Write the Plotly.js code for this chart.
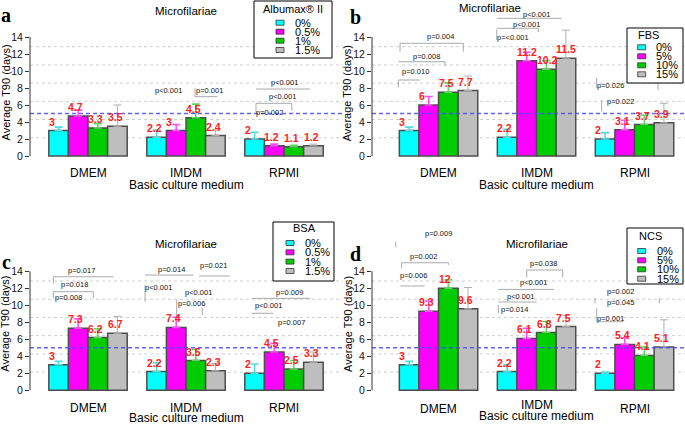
<!DOCTYPE html>
<html><head><meta charset="utf-8">
<script src="https://cdn.plot.ly/plotly-3.0.1.min.js"></script>
<style>html,body{margin:0;padding:0;background:#fff}#chart{width:685px;height:424px}</style>
</head><body><div id="chart"></div>
<script>
// ---------------- data ----------------
const media = ['DMEM', 'IMDM', 'RPMI'];

const levelsAlbumax = ['0%', '0.5%', '1%', '1.5%'];
const levelsFBS = ['0%', '5%', '10%', '15%'];
const levelsBSA = ['0%', '0.5%', '1%', '1.5%'];
const levelsNCS = ['0%', '5%', '10%', '15%'];

// mean T90 [level][medium]
const meanAlbumax = [[3, 2.2, 2], [4.7, 3, 1.2], [3.3, 4.5, 1.1], [3.5, 2.4, 1.2]];
const errAlbumax  = [[0.4, 0.85, 0.8], [0.7, 0.7, 0.2], [0.5, 1.6, 0.15], [2.5, 0.65, 0.2]];

const meanFBS = [[3, 2.2, 2], [6, 11.2, 3.1], [7.5, 10.2, 3.7], [7.7, 11.5, 3.9]];
const errFBS  = [[0.4, 0.95, 0.75], [1.0, 1.0, 1.1], [1.1, 1.0, 1.1], [1.7, 3.3, 2.3]];

const meanBSA = [[3, 2.2, 2], [7.3, 7.4, 4.5], [6.2, 3.5, 2.5], [6.7, 2.3, 3.3]];
const errBSA  = [[0.4, 1.05, 1.1], [1.1, 1.2, 1.0], [1.05, 1.3, 1.0], [2.0, 0.85, 1.2]];

const meanNCS = [[3, 2.2, 2], [9.3, 6.1, 5.4], [12, 6.8, 4.1], [9.6, 7.5, 5.1]];
const errNCS  = [[0.4, 0.8, 0.15], [1.2, 1.2, 0.75], [1.0, 1.3, 1.0], [2.5, 1.3, 3.2]];

const referenceLine = 5;
const yTicks = [0, 2, 4, 6, 8, 10, 12, 14];
const gridVals = [2.14, 4.29, 6.43, 8.57, 10.71, 12.86];

// p-value comparison labels (data units: x = category index, y = days)
const pAlbumax = [
  {t: 'p<0.001', x: 0.82, y: 7.65, path: []},
  {t: 'p=0.001', x: 1.235, y: 7.65, path: [[[1.092, 7.96], [1.092, 6.98], [1.319, 6.98]]]},
  {t: 'p<0.001', x: 2.0, y: 8.67, path: [[[1.714, 7.88], [2.265, 7.88]]]},
  {t: 'p<0.001', x: 1.983, y: 6.98, path: [[[1.714, 5.2], [1.714, 6.2], [2.079, 6.2], [2.079, 5.33]]]},
  {t: 'p=0.002', x: 1.857, y: 5.09, path: []}
];
const pFBS = [
  {t: 'p=0.004', x: 0.015, y: 14.04, path: [[[-0.393, 12.27], [-0.393, 13.26], [0.253, 13.26], [0.253, 12.27]]]},
  {t: 'p=0.008', x: -0.12, y: 11.68, path: [[[-0.41, 11.09], [0.066, 11.09], [0.066, 10.6]]]},
  {t: 'p=0.010', x: -0.24, y: 9.92, path: [[[-0.41, 8.08], [-0.41, 8.94], [-0.189, 8.94]]]},
  {t: 'p<0.001', x: 0.995, y: 16.7, path: [[[0.594, 16.2], [1.257, 16.2]]]},
  {t: 'p<0.001', x: 0.9, y: 15.5, path: [[[0.594, 15.02], [1.018, 15.02], [1.018, 14.58]]]},
  {t: 'p=<0.001', x: 0.763, y: 13.92, path: [[[0.594, 14.9], [0.594, 13.65]]]},
  {t: 'p=0.026', x: 1.75, y: 8.35, path: [[[1.614, 9.18], [1.614, 8.0]], [[2.24, 8.74], [2.24, 7.76]]]},
  {t: 'p=0.022', x: 1.852, y: 6.39, path: [[[1.665, 6.59], [1.665, 5.21]]]}
];
const pBSA = [
  {t: 'p=0.017', x: -0.064, y: 14.04, path: [[[-0.354, 12.59], [-0.354, 13.36], [0.258, 13.36]]]},
  {t: 'p=0.018', x: -0.133, y: 12.39, path: [[[-0.354, 10.82], [-0.354, 11.6], [0.054, 11.6], [0.054, 10.82]]]},
  {t: 'p=0.008', x: -0.2, y: 10.89, path: []},
  {t: 'p=0.014', x: 0.854, y: 14.27, path: [[[0.582, 13.56], [1.074, 13.56]]]},
  {t: 'p=0.021', x: 1.276, y: 14.7, path: [[[1.133, 13.45], [1.45, 13.45]]]},
  {t: 'p<0.001', x: 0.724, y: 12.07, path: [[[0.582, 12.39], [0.582, 10.42]]]},
  {t: 'p<0.001', x: 1.125, y: 11.53, path: []},
  {t: 'p=0.006', x: 1.058, y: 10.24, path: [[[0.905, 10.62], [0.905, 8.66]], [[1.166, 9.68], [1.166, 8.86]]]},
  {t: 'p=0.009', x: 2.061, y: 11.48, path: [[[1.67, 10.82], [2.265, 10.82]]]},
  {t: 'p<0.001', x: 1.84, y: 9.92, path: [[[1.67, 9.06], [1.89, 9.06]]]},
  {t: 'p=0.007', x: 2.079, y: 7.95, path: []}
];
const pNCS = [
  {t: 'p=0.009', x: -0.002, y: 18.47, path: [[[-0.437, 17.48], [-0.437, 16.82]]]},
  {t: 'p=0.002', x: -0.155, y: 15.8, path: [[[-0.376, 14.35], [-0.376, 15.01], [0.1, 15.01], [0.1, 14.74]]]},
  {t: 'p=0.006', x: -0.257, y: 13.56, path: [[[-0.39, 12.27], [-0.14, 12.27]]]},
  {t: 'p=0.038', x: 1.069, y: 14.94, path: [[[0.9, 13.29], [0.9, 14.15], [1.267, 14.15], [1.267, 13.29]]]},
  {t: 'p<0.001', x: 0.974, y: 12.7, path: [[[0.61, 11.87], [1.18, 11.87]]]},
  {t: 'p<0.001', x: 0.832, y: 11.09, path: [[[0.61, 10.39], [1.0, 10.39]]]},
  {t: 'p=0.014', x: 0.78, y: 9.53, path: [[[0.61, 10.04], [0.61, 9.06]]]},
  {t: 'p=0.002', x: 1.852, y: 11.6, path: [[[1.597, 10.82], [1.597, 10.24]], [[2.253, 10.82], [2.253, 10.24]]]},
  {t: 'p=0.045', x: 1.859, y: 10.35, path: []},
  {t: 'p=0.001', x: 1.75, y: 8.47, path: [[[1.614, 9.65], [1.614, 8.07], [1.886, 8.07]]]}
];

// ---------------- styling / layout ----------------
const W = 685, H = 424;
const FONT = 'Liberation Sans, Arial, Helvetica, sans-serif';
const barColors = ['#00ffff', '#ff00ff', '#00cd00', '#bebebe'];
const errColors = ['#4fdcdc', '#ff4cff', '#5ad85a', '#b0b0b0'];
const errWidths = [1.6, 1.6, 1.6, 1.0];

const rows = [
  {dom: [1 - 168.75 / H, 1 - 3 / H], range: [-1.5, 18]},
  {dom: [1 - 403.05 / H, 1 - 224.55 / H], range: [-1.5, 19.5]}
];

const panels = [
  {letter: 'a', means: meanAlbumax, errs: errAlbumax, levels: levelsAlbumax, legTitle: 'Albumax® II', pv: pAlbumax,
   row: 0, xdom: [30, 343], xr: [-0.592, 2.602],
   letterPos: [6, 15], titlePos: [186, 11], yTitlePos: [5, 92.5], catY: [173, 173, 173], xTitlePos: [186, 185],
   legBox: [254, 1, 332, 58], legTitlePos: [293.3, 9.5], swX: 280, labX: 293, itemY: [22.7, 31.7, 40.7, 50]},
  {letter: 'b', means: meanFBS, errs: errFBS, levels: levelsFBS, legTitle: 'FBS', pv: pFBS,
   row: 0, xdom: [372, 685], xr: [-0.679, 2.515],
   letterPos: [355, 17], titlePos: [490, 8.5], yTitlePos: [347, 93.3], catY: [173, 173, 173], xTitlePos: [536.7, 185],
   legBox: [627, 28, 683, 83], legTitlePos: [648.3, 34.5], swX: 641.7, labX: 654, itemY: [47.3, 56.3, 65.3, 74.3]},
  {letter: 'c', means: meanBSA, errs: errBSA, levels: levelsBSA, legTitle: 'BSA', pv: pBSA,
   row: 1, xdom: [30, 343], xr: [-0.592, 2.602],
   letterPos: [6, 262], titlePos: [186, 244.3], yTitlePos: [5, 323.7], catY: [407.5, 407.5, 407.5], xTitlePos: [186, 417.5],
   legBox: [273, 222, 334, 281], legTitlePos: [304.3, 228.5], swX: 290, labX: 303, itemY: [243, 252.3, 261.6, 271]},
  {letter: 'd', means: meanNCS, errs: errNCS, levels: levelsNCS, legTitle: 'NCS', pv: pNCS,
   row: 1, xdom: [372, 685], xr: [-0.679, 2.515],
   letterPos: [355.5, 254], titlePos: [536.7, 244.3], yTitlePos: [348, 324], catY: [408.7, 404.7, 408.7], xTitlePos: [536, 416],
   legBox: [627, 228, 683, 284], legTitlePos: [650, 235.5], swX: 641.7, labX: 655, itemY: [251, 260.3, 269.3, 278.7]}
];

const traces = [];
const shapes = [];
const annotations = [];
const layout = {
  width: W, height: H, margin: {l: 0, r: 0, t: 0, b: 0},
  paper_bgcolor: '#ffffff', plot_bgcolor: 'rgba(0,0,0,0)',
  barmode: 'group', bargap: 0.2, bargroupgap: 0, showlegend: false,
  font: {family: FONT, color: '#000'}
};

function txt(xp, yp, text, size, opts) {
  return Object.assign({xref: 'paper', yref: 'paper', x: xp / W, y: 1 - yp / H, text: text,
    showarrow: false, xanchor: 'center', yanchor: 'middle',
    font: {family: FONT, size: size, color: '#000'}}, opts || {});
}

panels.forEach((p, i) => {
  const sfx = i === 0 ? '' : String(i + 1);
  const xa = 'x' + sfx, ya = 'y' + sfx;
  const row = rows[p.row];
  layout['xaxis' + sfx] = {domain: [p.xdom[0] / W, p.xdom[1] / W], range: p.xr, type: 'category',
    anchor: ya, showticklabels: false, showgrid: false, zeroline: false, showline: false, ticks: '', fixedrange: true};
  layout['yaxis' + sfx] = {domain: row.dom, range: row.range, anchor: xa, tickmode: 'array', tickvals: yTicks,
    ticks: 'outside', ticklen: 4, tickwidth: 1, tickcolor: '#333', showgrid: false, zeroline: false, showline: false,
    tickfont: {family: FONT, size: 10.5, color: '#111'}, fixedrange: true};

  // bars
  p.levels.forEach((lev, k) => {
    traces.push({type: 'bar', name: lev, x: media, y: p.means[k], xaxis: xa, yaxis: ya,
      marker: {color: barColors[k], line: {color: '#4d4d4d', width: 1.5}},
      error_y: {type: 'data', symmetric: false, array: p.errs[k], arrayminus: media.map(() => 0),
        color: errColors[k], thickness: errWidths[k], width: 4},
      hoverinfo: 'skip', cliponaxis: false});
    // value labels
    media.forEach((m, j) => {
      annotations.push({xref: xa, yref: ya, x: j - 0.4 + 0.2 * k, y: p.means[k][j], text: String(p.means[k][j]),
        showarrow: false, xanchor: 'left', yanchor: 'bottom', xshift: -2, yshift: 1,
        font: {family: FONT, size: 10.5, color: '#ff2020', weight: 'bold'}});
    });
  });

  // gridlines (dotted) below
  gridVals.forEach(v => shapes.push({type: 'line', layer: 'below', xref: xa + ' domain', yref: ya,
    x0: 0, x1: 1, y0: v, y1: v, line: {color: '#cfcfcf', width: 1, dash: 'dot'}}));
  // reference line
  shapes.push({type: 'line', xref: xa + ' domain', yref: ya, x0: 0, x1: 1, y0: referenceLine, y1: referenceLine,
    line: {color: 'rgba(70,70,255,0.85)', width: 1.6, dash: '4px,3px'}});
  // y axis line 0..14
  shapes.push({type: 'line', xref: xa + ' domain', yref: ya, x0: 0, x1: 0, y0: 0, y1: 14,
    line: {color: '#333', width: 1}});

  // p-value brackets
  p.pv.forEach(b => {
    b.path.forEach(seg => {
      const d = seg.map((pt, n) => (n ? 'L' : 'M') + pt[0] + ',' + pt[1]).join(' ');
      shapes.push({type: 'path', xref: xa, yref: ya, path: d, line: {color: '#aaaaaa', width: 1}});
    });
    annotations.push({xref: xa, yref: ya, x: b.x, y: b.y, text: b.t, showarrow: false,
      xanchor: 'center', yanchor: 'middle', font: {family: FONT, size: 7.5, color: '#111'}});
  });

  // texts
  annotations.push(txt(p.letterPos[0], p.letterPos[1], p.letter, 20,
    {font: {family: 'Liberation Serif, Times New Roman, serif', size: 20, color: '#000', weight: 'bold'}}));
  annotations.push(txt(p.titlePos[0], p.titlePos[1], 'Microfilariae', 11.5));
  annotations.push(txt(p.yTitlePos[0], p.yTitlePos[1], 'Average T90 (days)', 11, {textangle: -90}));
  media.forEach((m, j) => annotations.push({xref: xa, yref: 'paper', x: j, y: 1 - p.catY[j] / H, text: m,
    showarrow: false, xanchor: 'center', yanchor: 'middle', font: {family: FONT, size: 12, color: '#000'}}));
  annotations.push(txt(p.xTitlePos[0], p.xTitlePos[1], 'Basic culture medium', 12));

  // legend box
  const lb = p.legBox;
  shapes.push({type: 'rect', xref: 'paper', yref: 'paper', x0: lb[0] / W, x1: lb[2] / W, y0: 1 - lb[3] / H, y1: 1 - lb[1] / H,
    fillcolor: '#ffffff', line: {color: '#000', width: 1}});
  annotations.push(txt(p.legTitlePos[0], p.legTitlePos[1], p.legTitle, 11));
  p.levels.forEach((lev, k) => {
    const cy = p.itemY[k];
    shapes.push({type: 'rect', xref: 'paper', yref: 'paper', x0: (p.swX - 4) / W, x1: (p.swX + 4) / W,
      y0: 1 - (cy + 2.5) / H, y1: 1 - (cy - 2.5) / H, fillcolor: barColors[k], line: {color: '#333', width: 0.8}});
    annotations.push(txt(p.labX, cy, lev, 11, {xanchor: 'left'}));
  });
});

layout.shapes = shapes;
layout.annotations = annotations;

Plotly.newPlot('chart', traces, layout, {staticPlot: true, displayModeBar: false});
</script>
</body></html>
